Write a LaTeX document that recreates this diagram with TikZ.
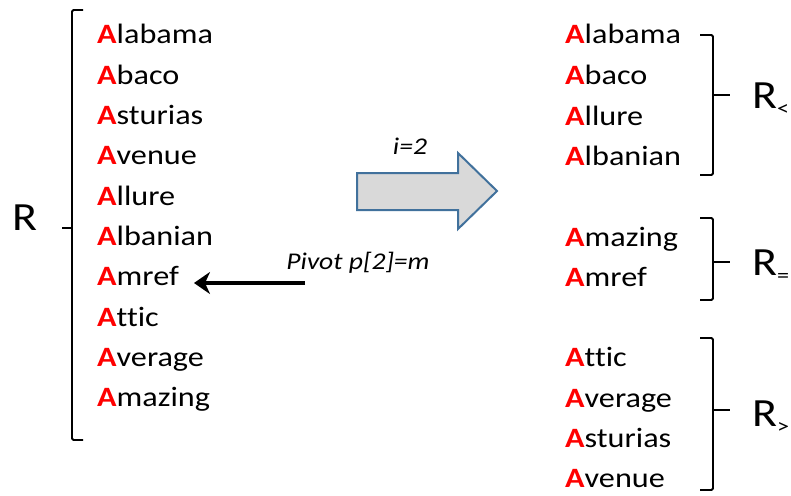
\documentclass[tikz,border=0pt]{standalone}
\usepackage{fontspec}
\setmainfont{Carlito}[FakeStretch=1.15,Ligatures=CommonOff]
\usetikzlibrary{arrows.meta}

\definecolor{arrowblue}{HTML}{41719C}
\newcommand{\redA}{\textcolor{red}{\textbf{A}}}
\newcommand{\sub}[1]{\raisebox{-7pt}{\fontsize{21}{21}\selectfont#1}}
\tikzset{
  item/.style={anchor=base west,inner sep=0pt,font=\fontsize{28}{32}\selectfont},
  bigR/.style={inner sep=0pt,font=\fontsize{40}{44}\selectfont},
  brk/.style={line width=1.8pt,rounded corners=1.5pt},
}

\begin{document}
\begin{tikzpicture}[x=1pt,y=-1pt]
\useasboundingbox (0,0) rectangle (791,495);
% left list
\foreach \w [count=\i] in {labama,baco,sturias,venue,llure,lbanian,mref,ttic,verage,mazing}
  \node[item] (l\i) at (97,{44+40.3*(\i-1)}) {\redA\w};
\draw[brk] (83,10) -- (72,10) -- (72,440) -- (83,440);
\draw[brk] (62,228) -- (72,228);
\node[bigR] (r) at (25,218) {R};
% right list
\foreach \y/\w [count=\i] in {44/labama,84/baco,125/llure,165/lbanian,246/mazing,286/mref,366/ttic,407/verage,447/sturias,487/venue}
  \node[item] (s\i) at (565,\y) {\redA\w};
\draw[brk] (700,35) -- (713,35) -- (713,175) -- (700,175);
\draw[brk] (713,95) -- (730,95);
\draw[brk] (700,218) -- (713,218) -- (713,300) -- (700,300);
\draw[brk] (713,262) -- (730,262);
\draw[brk] (700,338) -- (713,338) -- (713,490) -- (700,490);
\draw[brk] (713,410) -- (730,410);
\node[bigR,anchor=base west] (rl) at (752,108) {R\sub{<}};
\node[bigR,anchor=base west] (re) at (752,275) {R\sub{=}};
\node[bigR,anchor=base west] (rg) at (752,426) {R\sub{>}};
% block arrow
\draw[fill=black!15,draw=arrowblue,line width=2pt,line join=miter]
  (357,173) -- (458,173) -- (458,153) -- (497,191) -- (458,229) -- (458,210) -- (357,210) -- cycle;
\node[font=\fontsize{24}{26}\selectfont\itshape] (step) at (410,146) {i=2};
% pivot
\node[font=\fontsize{24}{26}\selectfont\itshape] (piv) at (358,263) {Pivot p[2]=m};
\coordinate (pvs) at (305,283);
\draw[line width=4pt,-{Stealth[length=16pt,width=22pt,inset=5pt]}] (pvs) -- ([xshift=15pt]pvs -| l7.east);
\end{tikzpicture}
\end{document}
